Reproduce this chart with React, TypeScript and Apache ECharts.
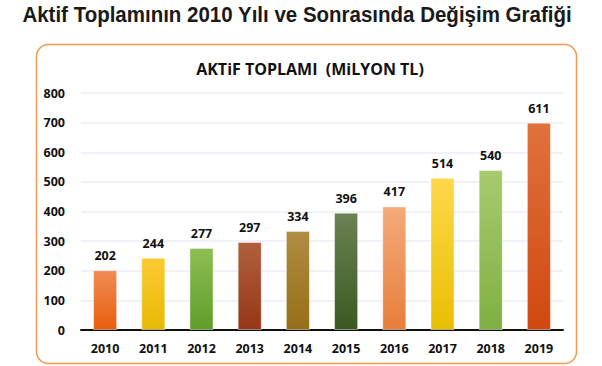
import React, { useEffect, useRef } from "react";
import * as echarts from "echarts";

const years = ["2010", "2011", "2012", "2013", "2014", "2015", "2016", "2017", "2018", "2019"];
const barValues = [202, 244, 277, 297, 334, 396, 417, 514, 540, 700];
const valueLabels = ["202", "244", "277", "297", "334", "396", "417", "514", "540", "611"];
const topColors = ["#F08C55", "#FCCB35", "#8DBE52", "#B0603E", "#B08C42", "#6B8252", "#F4AA7A", "#FFD84C", "#A6CB6E", "#E0723E"];
const bottomColors = ["#E75E0C", "#E8B902", "#5F9E28", "#963617", "#976F18", "#3A5A22", "#E77E3C", "#E8C002", "#7FB042", "#D0480F"];
const yTicks = [0, 100, 200, 300, 400, 500, 600, 700, 800];
const mainTitle = "Aktif Toplamının 2010 Yılı ve Sonrasında Değişim Grafiği";

export default function App() {
  const ref = useRef<HTMLDivElement>(null);
  useEffect(() => {
    const chart = echarts.init(ref.current!, undefined, { renderer: "svg" });
    const lblFont = "'Open Sans', 'Liberation Sans', sans-serif";
    const titleFont = "'Liberation Sans', Arial, sans-serif";
    let sx = 0.85;
    try {
      const c = document.createElement("canvas").getContext("2d")!;
      c.font = "bold 22px 'Liberation Sans'";
      const w = c.measureText(mainTitle).width;
      if (w > 0) sx = 550 / w;
    } catch (e) {}
    chart.setOption({
      animation: false,
      backgroundColor: "#ffffff",
      title: [
        {
          text: "AKTiF TOPLAMI  (MiLYON TL)",
          left: 305,
          textAlign: "center",
          top: 56,
          textStyle: { fontFamily: lblFont, fontWeight: "bold", fontSize: 16, color: "#111" },
        },
      ],
      graphic: [
        {
          type: "text",
          x: 297,
          y: 15,
          scaleX: sx,
          style: {
            text: mainTitle,
            fontFamily: titleFont,
            fontWeight: "bold",
            fontSize: 22,
            fill: "#1a1a1a",
            align: "center",
            verticalAlign: "middle",
          },
        },
        {
          type: "rect",
          shape: { x: 36.5, y: 44.5, width: 540, height: 319, r: 12 },
          style: { fill: "none", stroke: "#F29A4F", lineWidth: 1.5 },
          z: -1,
        },
      ],
      grid: { left: 81, right: 39, top: 93, bottom: 36 },
      xAxis: {
        type: "category",
        data: years,
        axisLine: { lineStyle: { color: "#111", width: 2 } },
        axisTick: { show: false },
        axisLabel: { fontFamily: lblFont, fontWeight: "bold", fontSize: 12.5, color: "#111", margin: 12 },
      },
      yAxis: {
        type: "value",
        min: yTicks[0],
        max: yTicks[yTicks.length - 1],
        interval: 100,
        axisLine: { show: false },
        axisTick: { show: false },
        splitLine: { lineStyle: { color: "#ECEEF4", width: 1.5 } },
        axisLabel: { fontFamily: lblFont, fontWeight: "bold", fontSize: 12.5, color: "#111", margin: 16 },
      },
      series: [
        {
          type: "bar",
          barWidth: "50%",
          data: barValues.map((v, i) => ({
            value: v,
            itemStyle: {
              color: new echarts.graphic.LinearGradient(0, 0, 0, 1, [
                { offset: 0, color: topColors[i] },
                { offset: 1, color: bottomColors[i] },
              ]),
              borderColor: "rgba(255,255,255,0.45)",
              borderWidth: 1,
            },
          })),
          label: {
            show: true,
            position: "top",
            distance: 8,
            formatter: (p: any) => valueLabels[p.dataIndex],
            fontFamily: lblFont,
            fontWeight: "bold",
            fontSize: 12.5,
            color: "#111",
          },
        },
      ],
    });
    return () => chart.dispose();
  }, []);
  return <div ref={ref} style={{ width: 602, height: 366, position: "absolute", left: 0, top: 0 }} />;
}
